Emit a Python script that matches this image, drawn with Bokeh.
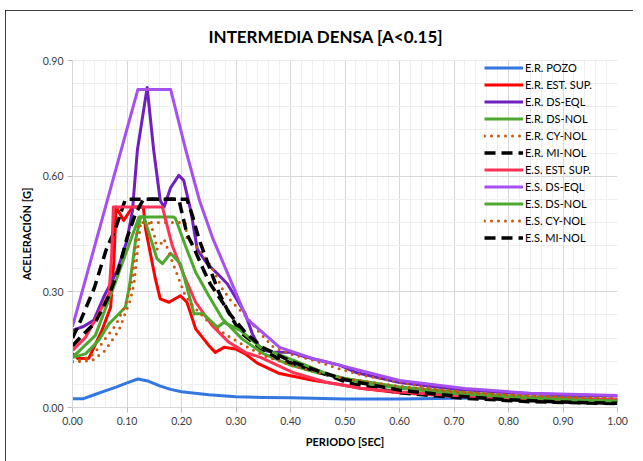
from bokeh.plotting import figure
from bokeh.models import Range1d, SingleIntervalTicker, Legend, LegendItem, NumeralTickFormatter
from bokeh.embed import file_html
from bokeh.resources import INLINE

TITLE = "INTERMEDIA DENSA [A<0.15]"
X_LABEL = "PERIODO [SEC]"
Y_LABEL = "ACELERACIÓN [G]"

# ---- data (period [s], acceleration [g]) ----
T_ER_POZO = [0, 0.02, 0.04, 0.06, 0.08, 0.10, 0.12, 0.14, 0.16, 0.18, 0.20, 0.25, 0.30, 0.35, 0.40, 0.50, 0.60, 0.70, 0.80, 0.90, 1.00]
A_ER_POZO = [0.023, 0.023, 0.033, 0.043, 0.053, 0.064, 0.074, 0.068, 0.056, 0.047, 0.041, 0.033, 0.028, 0.026, 0.025, 0.022, 0.022, 0.024, 0.026, 0.028, 0.031]

T_ER_EST = [0, 0.01, 0.03, 0.054, 0.07, 0.076, 0.08, 0.094, 0.11, 0.13, 0.134, 0.152, 0.161, 0.177, 0.198, 0.21, 0.226, 0.25, 0.262, 0.278, 0.299, 0.317, 0.339, 0.38, 0.443, 0.49, 0.528, 0.6, 0.7, 0.8, 0.9, 1.0]
A_ER_EST = [0.14, 0.127, 0.128, 0.2, 0.26, 0.38, 0.52, 0.485, 0.52, 0.52, 0.464, 0.334, 0.282, 0.273, 0.29, 0.273, 0.204, 0.161, 0.143, 0.156, 0.152, 0.139, 0.115, 0.088, 0.07, 0.06, 0.05, 0.038, 0.029, 0.024, 0.02, 0.018]

T_ER_DSEQL = [0, 0.02, 0.039, 0.057, 0.082, 0.1, 0.11, 0.119, 0.137, 0.149, 0.161, 0.168, 0.18, 0.195, 0.204, 0.217, 0.229, 0.247, 0.266, 0.284, 0.299, 0.317, 0.33, 0.345, 0.37, 0.4, 0.43, 0.455, 0.49, 0.522, 0.6, 0.7, 0.8, 0.9, 1.0]
A_ER_DSEQL = [0.2, 0.21, 0.226, 0.286, 0.355, 0.433, 0.511, 0.667, 0.83, 0.667, 0.537, 0.52, 0.57, 0.602, 0.589, 0.511, 0.41, 0.373, 0.347, 0.321, 0.286, 0.243, 0.191, 0.15, 0.143, 0.143, 0.13, 0.122, 0.11, 0.09, 0.065, 0.048, 0.038, 0.033, 0.03]

T_ER_DSNOL = [0, 0.042, 0.08, 0.122, 0.186, 0.189, 0.207, 0.226, 0.25, 0.275, 0.311, 0.35, 0.4, 0.45, 0.5, 0.6, 0.7, 0.8, 0.9, 1.0]
A_ER_DSNOL = [0.13, 0.187, 0.33, 0.494, 0.494, 0.49, 0.42, 0.351, 0.29, 0.23, 0.178, 0.14, 0.11, 0.09, 0.075, 0.053, 0.04, 0.03, 0.023, 0.018]

T_ER_CYNOL = [0, 0.036, 0.06, 0.085, 0.106, 0.113, 0.125, 0.207, 0.21, 0.235, 0.259, 0.275, 0.29, 0.32, 0.345, 0.369, 0.4, 0.443, 0.49, 0.535, 0.6, 0.66, 0.72, 0.84, 1.0]
A_ER_CYNOL = [0.118, 0.122, 0.148, 0.2, 0.278, 0.321, 0.48, 0.48, 0.44, 0.407, 0.355, 0.308, 0.278, 0.234, 0.191, 0.156, 0.139, 0.122, 0.1, 0.083, 0.066, 0.049, 0.04, 0.029, 0.022]

T_ER_MINOL = [0, 0.015, 0.04, 0.062, 0.079, 0.097, 0.21, 0.22, 0.232, 0.25, 0.268, 0.287, 0.308, 0.339, 0.376, 0.406, 0.443, 0.473, 0.504, 0.6, 0.72, 0.84, 1.0]
A_ER_MINOL = [0.18, 0.226, 0.31, 0.41, 0.464, 0.54, 0.54, 0.498, 0.437, 0.368, 0.30, 0.245, 0.195, 0.161, 0.128, 0.113, 0.096, 0.082, 0.065, 0.038, 0.024, 0.015, 0.01]

T_ES_EST = [0, 0.024, 0.048, 0.067, 0.072, 0.075, 0.165, 0.183, 0.207, 0.226, 0.256, 0.287, 0.317, 0.345, 0.406, 0.467, 0.528, 0.6, 0.7, 0.8, 0.9, 1.0]
A_ES_EST = [0.148, 0.182, 0.243, 0.295, 0.40, 0.52, 0.52, 0.42, 0.334, 0.273, 0.213, 0.169, 0.143, 0.13, 0.09, 0.065, 0.05, 0.04, 0.031, 0.025, 0.022, 0.02]

T_ES_DSEQL = [0, 0.12, 0.18, 0.208, 0.233, 0.257, 0.284, 0.32, 0.38, 0.443, 0.49, 0.6, 0.72, 0.84, 1.0]
A_ES_DSEQL = [0.21, 0.825, 0.825, 0.667, 0.537, 0.44, 0.35, 0.23, 0.156, 0.126, 0.11, 0.07, 0.049, 0.037, 0.031]

T_ES_DSNOL = [0, 0.024, 0.048, 0.067, 0.079, 0.097, 0.103, 0.106, 0.116, 0.125, 0.131, 0.155, 0.165, 0.18, 0.198, 0.21, 0.223, 0.24, 0.266, 0.278, 0.308, 0.345, 0.406, 0.467, 0.528, 0.6, 0.7, 0.8, 0.9, 1.0]
A_ES_DSNOL = [0.13, 0.139, 0.174, 0.217, 0.234, 0.26, 0.303, 0.33, 0.437, 0.494, 0.494, 0.386, 0.373, 0.4, 0.373, 0.312, 0.243, 0.243, 0.208, 0.221, 0.2, 0.156, 0.122, 0.087, 0.065, 0.05, 0.036, 0.027, 0.021, 0.017]

T_ES_CYNOL = [0, 0.02, 0.04, 0.06, 0.079, 0.097, 0.11, 0.119, 0.125, 0.14, 0.149, 0.155, 0.168, 0.18, 0.195, 0.207, 0.22, 0.238, 0.25, 0.28, 0.31, 0.35, 0.4, 0.45, 0.5, 0.6, 0.7, 0.8, 0.9, 1.0]
A_ES_CYNOL = [0.12, 0.125, 0.14, 0.178, 0.213, 0.265, 0.334, 0.464, 0.48, 0.48, 0.455, 0.41, 0.437, 0.39, 0.334, 0.29, 0.265, 0.239, 0.221, 0.19, 0.165, 0.135, 0.11, 0.09, 0.075, 0.055, 0.04, 0.032, 0.027, 0.024]

T_ES_MINOL = [0, 0.02, 0.042, 0.067, 0.085, 0.1, 0.115, 0.13, 0.195, 0.21, 0.222, 0.241, 0.253, 0.272, 0.29, 0.32, 0.35, 0.4, 0.45, 0.5, 0.6, 0.7, 0.8, 0.9, 1.0]
A_ES_MINOL = [0.16, 0.19, 0.221, 0.29, 0.36, 0.44, 0.5, 0.54, 0.54, 0.45, 0.416, 0.355, 0.32, 0.28, 0.24, 0.19, 0.155, 0.12, 0.095, 0.072, 0.045, 0.03, 0.02, 0.014, 0.011]

X_TICK_STEP = 0.1
Y_TICK_STEP = 0.3

FONT = "Lato"

p = figure(width=628, height=451, output_backend="svg", toolbar_location=None,
           x_range=Range1d(0, 1), y_range=Range1d(0, 0.9),
           min_border_left=67, min_border_right=16, min_border_top=50, min_border_bottom=54)
p.margin = (10, 0, 0, 5)
p.styles = {"outline": "1.5px solid #000000", "outline-offset": "-1.5px"}
p.outline_line_color = None
p.background_fill_color = "white"
p.border_fill_color = "white"

p.title.text = TITLE
p.title.align = "left"
p.title.offset = 136
p.title.text_font = FONT
p.title.text_font_size = "17px"
p.title.text_font_style = "bold"
p.title.text_color = "#000000"
p.title.standoff = 27

p.xaxis.ticker = SingleIntervalTicker(interval=X_TICK_STEP, num_minor_ticks=5)
p.yaxis.ticker = SingleIntervalTicker(interval=Y_TICK_STEP, num_minor_ticks=5)
p.xaxis.formatter = NumeralTickFormatter(format="0.00")
p.yaxis.formatter = NumeralTickFormatter(format="0.00")
for ax in (p.xaxis[0], p.yaxis[0]):
    ax.axis_line_color = "#D9D9D9"
    ax.major_tick_line_color = "#BFBFBF"
    ax.major_tick_out = 5
    ax.major_tick_in = 0
    ax.minor_tick_line_color = None
    ax.major_label_text_font = FONT
    ax.major_label_text_font_size = "10.5px"
    ax.major_label_text_color = "#404040"
    ax.axis_label_text_font = FONT
    ax.axis_label_text_font_size = "11px"
    ax.axis_label_text_font_style = "bold"
    ax.axis_label_text_color = "#000000"
    ax.major_label_standoff = 4
    ax.axis_label_standoff = 7
p.xaxis.axis_label = X_LABEL
p.yaxis.axis_label = Y_LABEL

p.xgrid.grid_line_color = "#D9D9D9"
p.ygrid.grid_line_color = "#D9D9D9"
p.xgrid.minor_grid_line_color = "#EFEFEF"
p.ygrid.minor_grid_line_color = "#EFEFEF"

W = 3
series = [
    ("E.R. POZO", T_ER_POZO, A_ER_POZO, "#3377E0", "solid"),
    ("E.R. EST. SUP.", T_ER_EST, A_ER_EST, "#FF0000", "solid"),
    ("E.R. DS-EQL", T_ER_DSEQL, A_ER_DSEQL, "#7020C0", "solid"),
    ("E.R. DS-NOL", T_ER_DSNOL, A_ER_DSNOL, "#4EA72E", "solid"),
    ("E.R. CY-NOL", T_ER_CYNOL, A_ER_CYNOL, "#C55A11", "dot"),
    ("E.R. MI-NOL", T_ER_MINOL, A_ER_MINOL, "#000000", "dash"),
    ("E.S. EST. SUP.", T_ES_EST, A_ES_EST, "#FF3355", "solid"),
    ("E.S. DS-EQL", T_ES_DSEQL, A_ES_DSEQL, "#A650F0", "solid"),
    ("E.S. DS-NOL", T_ES_DSNOL, A_ES_DSNOL, "#4EA72E", "solid"),
    ("E.S. CY-NOL", T_ES_CYNOL, A_ES_CYNOL, "#C55A11", "dot"),
    ("E.S. MI-NOL", T_ES_MINOL, A_ES_MINOL, "#000000", "dash"),
]

items = []
for name, t, a, color, style in series:
    if style == "dot":
        r = p.line(t, a, line_color=color, line_width=W, line_dash="0 7", line_cap="round", line_join="round")
    elif style == "dash":
        r = p.line(t, a, line_color=color, line_width=W + 0.5, line_dash="11 6", line_join="round")
    else:
        r = p.line(t, a, line_color=color, line_width=W, line_join="round")
    items.append(LegendItem(label=name, renderers=[r]))

legend = Legend(items=items, location=(412, 162), padding=0, margin=0, spacing=2,
                label_height=15, glyph_height=15, glyph_width=39, label_standoff=2,
                background_fill_alpha=0, border_line_color=None,
                label_text_font=FONT, label_text_font_size="11px", label_text_color="#000000")
p.add_layout(legend)

open("out.html", "w").write(file_html(p, INLINE))
